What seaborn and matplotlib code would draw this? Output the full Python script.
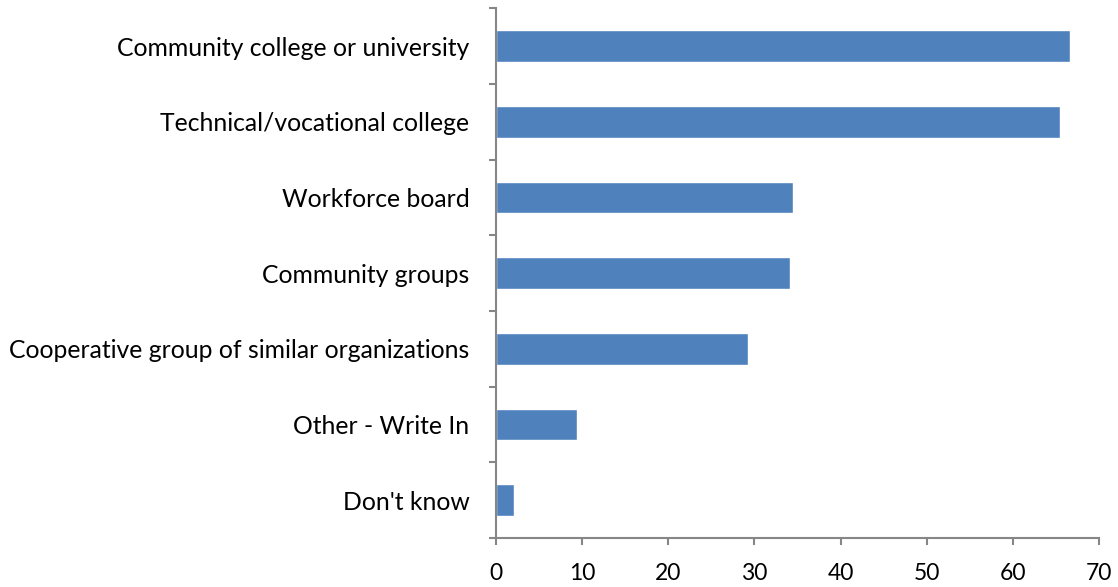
import numpy as np
import pandas as pd
import matplotlib
matplotlib.use("Agg")
import matplotlib.pyplot as plt
from matplotlib.ticker import FixedLocator
import seaborn as sns

categories = [
    "Community college or university",
    "Technical/vocational college",
    "Workforce board",
    "Community groups",
    "Cooperative group of similar organizations",
    "Other - Write In",
    "Don't know",
]
values = [66.6, 65.5, 34.5, 34.1, 29.3, 9.4, 2.1]
x_ticks = [0, 10, 20, 30, 40, 50, 60, 70]

df = pd.DataFrame({"partner": categories, "pct": values})

sns.set_style("white")
plt.rcParams["font.family"] = ["Lato", "DejaVu Sans"]

fig = plt.figure(figsize=(11.18, 5.87), dpi=100)
ax = fig.add_axes([0.4436, 0.0835, 0.5395, 0.9025])

sns.barplot(data=df, x="pct", y="partner", orient="h", color="#4F81BD",
            saturation=1, width=0.42, ax=ax)

axis_col = "#868686"
ax.set_xlim(0, 70)
ax.set_ylim(len(categories) - 0.5, -0.5)
ax.set_xticks(x_ticks)
ax.set_xticklabels([str(t) for t in x_ticks], fontsize=16.5, color="black")
for lbl in ax.get_yticklabels():
    lbl.set_color("black")
ax.tick_params(axis="y", which="major", left=False, length=0, labelsize=17.8, pad=19)
ax.yaxis.set_minor_locator(FixedLocator(np.arange(-0.5, len(categories), 1.0)))
ax.tick_params(axis="y", which="minor", left=True, length=5, width=1.5,
               color=axis_col, direction="out")
ax.tick_params(axis="x", which="major", bottom=True, length=5, width=1.5,
               color=axis_col, direction="out", pad=13)
ax.set_xlabel("")
ax.set_ylabel("")

for side in ["top", "right"]:
    ax.spines[side].set_visible(False)
for side in ["left", "bottom"]:
    ax.spines[side].set_color(axis_col)
    ax.spines[side].set_linewidth(1.5)

fig.savefig("out.png", dpi=100)
